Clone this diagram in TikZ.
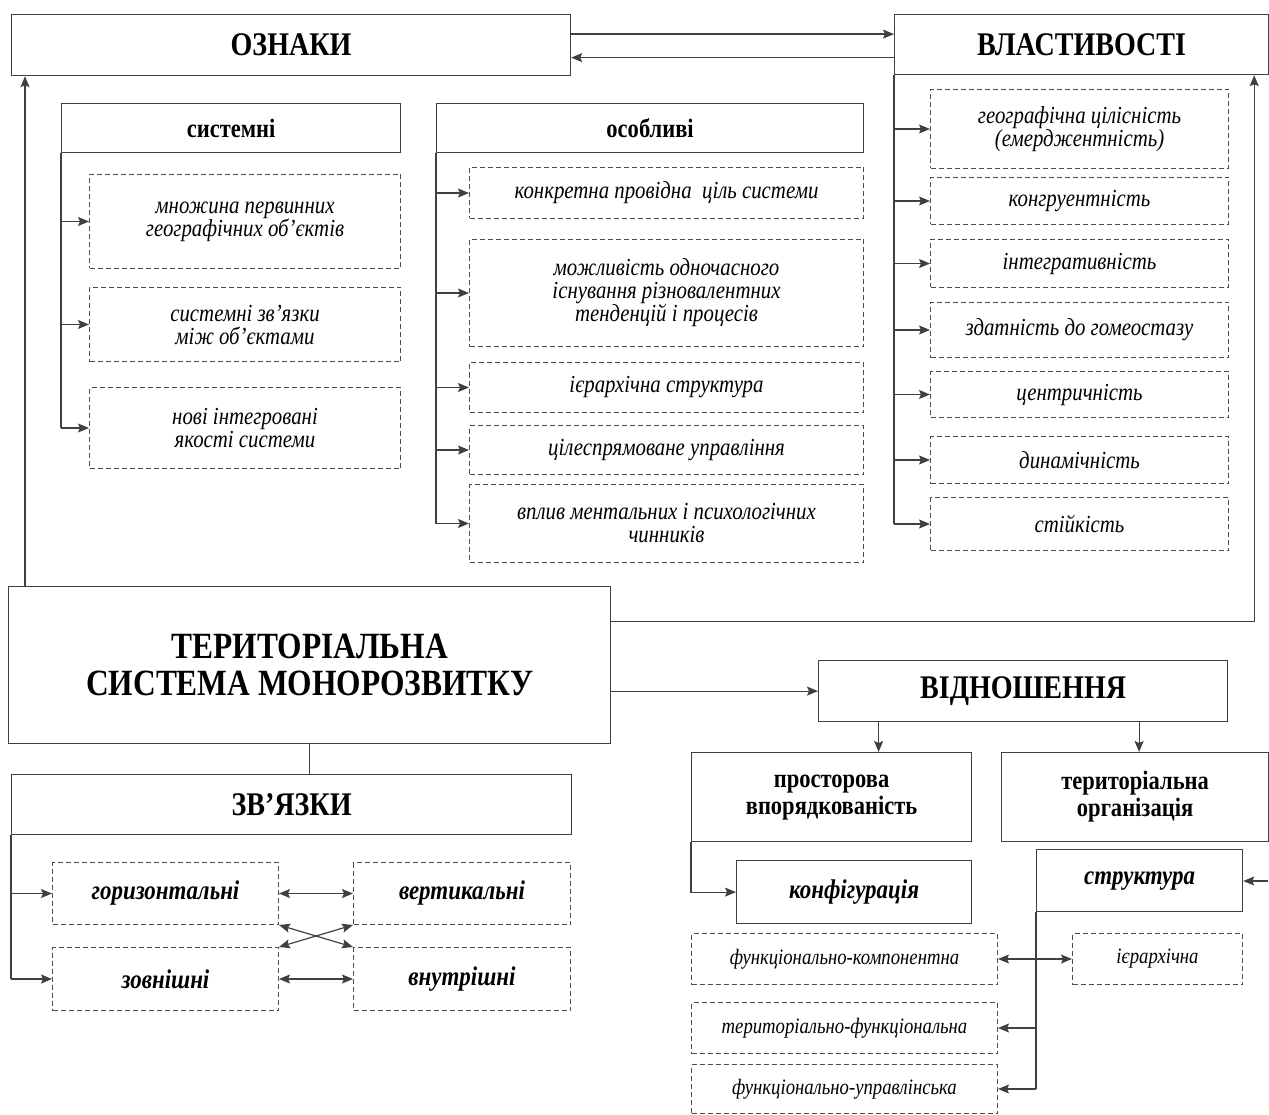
\documentclass[tikz,border=0pt]{standalone}
\usepackage{fontspec}
\setmainfont{Liberation Serif}[FakeStretch=0.85]
\usetikzlibrary{arrows.meta,positioning}

\begin{document}
\begin{tikzpicture}[
            x=1pt, y=-1pt,
            every node/.style={align=center, inner sep=0pt, text=black},
            sz/.style 2 args={minimum width=#1pt, minimum height=#2pt},
            box/.style={draw=black!75, line width=1.2pt, anchor=north west},
            dbox/.style={draw=black!70, line width=1pt, dash pattern=on 5pt off 3pt, anchor=north west, font=\fontsize{24.5}{23}\selectfont\itshape},
            sbox/.style={dbox, font=\fontsize{22}{22}\selectfont\itshape},
            bbox/.style={dbox, font=\fontsize{27}{27}\selectfont\bfseries\itshape},
            title/.style={box, font=\fontsize{33}{36}\selectfont\bfseries},
            head/.style={box, font=\fontsize{26.5}{27}\selectfont\bfseries},
            tip/.style={Stealth[length=11pt,width=9pt,inset=2pt]},
            to/.style={-{Stealth[length=11pt,width=9pt,inset=2pt]},line width=1.2pt,draw=black!75},
            both/.style={{Stealth[length=11pt,width=9pt,inset=2pt]}-{Stealth[length=11pt,width=9pt,inset=2pt]},line width=1.2pt,draw=black!75},
            line/.style={line width=1.2pt,draw=black!75}
  ]
  \useasboundingbox (0,0) rectangle (1269,1115);

  % top row
  \node[title, sz={559}{61}] (ozn) at (11,14) {ОЗНАКИ};
  \node[title, sz={374}{60}] (vlast) at (894,14) {ВЛАСТИВОСТІ};

  % ознаки
  \node[head, sz={339}{49}] (sys) at (61,103) {системні};
  \node[head, sz={427}{49}] (osob) at (436,103) {особливі};

  \node[dbox, sz={311}{94}] (s1) at (89,174) {множина первинних\\географічних об'єктів};
  \node[dbox, sz={311}{74}] (s2) at (89,287) {системні зв'язки\\між об'єктами};
  \node[dbox, sz={311}{81}] (s3) at (89,387) {нові інтегровані\\якості системи};

  \node[dbox, sz={394}{51}] (o1) at (469,167) {конкретна провідна\ \ ціль системи};
  \node[dbox, sz={394}{107}] (o2) at (469,239) {можливість одночасного\\існування різновалентних\\тенденцій і процесів};
  \node[dbox, sz={394}{50}] (o3) at (469,362) {ієрархічна структура};
  \node[dbox, sz={394}{49}] (o4) at (469,425) {цілеспрямоване управління};
  \node[dbox, sz={394}{78}] (o5) at (469,484) {вплив ментальних і психологічних\\чинників};

  % властивості
  \node[dbox, sz={298}{79}] (v1) at (930,89) {географічна цілісність\\(емерджентність)};
  \node[dbox, sz={298}{47}] (v2) at (930,177) {конгруентність};
  \node[dbox, sz={298}{48}] (v3) at (930,239) {інтегративність};
  \node[dbox, sz={298}{55}] (v4) at (930,302) {здатність до гомеостазу};
  \node[dbox, sz={298}{46}] (v5) at (930,371) {центричність};
  \node[dbox, sz={298}{47}] (v6) at (930,436) {динамічність};
  \node[dbox, sz={298}{53}] (v7) at (930,497) {стійкість};

  % centre
  \node[box, sz={602}{157}, font=\fontsize{37}{37}\selectfont\bfseries] (ter) at (8,586) {ТЕРИТОРІАЛЬНА\\СИСТЕМА МОНОРОЗВИТКУ};

  % зв'язки
  \node[title, sz={560}{60}] (zv) at (11,774) {ЗВ’ЯЗКИ};
  \node[bbox, sz={226}{62}] (z1) at (52,862) {горизонтальні};
  \node[bbox, sz={217}{62}] (z2) at (353,862) {вертикальні};
  \node[bbox, sz={226}{63}] (z3) at (52,947) {зовнішні};
  \node[bbox, sz={217}{63}] (z4) at (353,947) {внутрішні};

  % відношення
  \node[title, sz={409}{61}] (vid) at (818,660) {ВІДНОШЕННЯ};
  \node[head, sz={280}{89}] (pro) at (691,752) {просторова\\впорядкованість};
  \node[head, sz={267}{89}] (tor) at (1001,752) {територіальна\\організація};
  \node[box, sz={235}{63}, font=\fontsize{27}{27}\selectfont\bfseries\itshape] (konf) at (736,860) {конфігурація};
  \node[box, sz={206}{62}, font=\fontsize{27}{27}\selectfont\bfseries\itshape] (str) at (1036,849) {\raisebox{5pt}{структура}};
  \node[sbox, sz={306}{51}] (f1) at (691,933) {функціонально-компонентна};
  \node[sbox, sz={170}{51}] (h1) at (1072,933) {ієрархічна};
  \node[sbox, sz={306}{51}] (f2) at (691,1002) {територіально-функціональна};
  \node[sbox, sz={306}{49}] (f3) at (691,1064) {функціонально-управлінська};
  \coordinate (rim) at (1268,881);

  % connectors
  \draw[to] ([yshift=11pt]ozn.east) -- ([yshift=11pt]ozn.east -| vlast.west);
  \draw[to] ([yshift=-13pt]vlast.west) -- ([yshift=-13pt]vlast.west -| ozn.east);
  \draw[to] ([xshift=17pt]ter.north west) -- ([xshift=17pt]ter.north west |- ozn.south);

  \draw[line] (sys.south west) -- (sys.south west |- s3.west);
  \foreach \n in {s1,s2,s3} \draw[to] (sys.south west |- \n.west) -- (\n.west);

  \draw[line] (osob.south west) -- (osob.south west |- o5.west);
  \foreach \n in {o1,o2,o3,o4,o5} \draw[to] (osob.south west |- \n.west) -- (\n.west);

  \draw[line] (vlast.south west) -- (vlast.south west |- v7.west);
  \foreach \n in {v1,v2,v3,v4,v5,v6,v7} \draw[to] (vlast.south west |- \n.west) -- (\n.west);

  \draw[to] ([yshift=44pt]ter.east) -| ([xshift=-15pt]vlast.south east);
  \draw[to] (ter.east |- vid.west) -- (vid.west);
  \draw[line] (ter.south) -- (ter.south |- zv.north);

  \draw[line] (zv.south west) -- (zv.south west |- z3.west);
  \foreach \n in {z1,z3} \draw[to] (zv.south west |- \n.west) -- (\n.west);
  \draw[both] (z1.east) -- (z2.west);
  \draw[both] (z3.east) -- (z4.west);
  \draw[both] (z1.south east) -- (z4.north west);
  \draw[both] (z3.north east) -- (z2.south west);

  \draw[to] ([xshift=47pt]pro.north |- vid.south) -- ([xshift=47pt]pro.north);
  \draw[to] ([xshift=4pt]tor.north |- vid.south) -- ([xshift=4pt]tor.north);
  \draw[to] (pro.south west) |- (konf.west);

  \draw[to] (rim) -- (rim -| str.east);
  \draw[line] (str.south west) -- (str.south west |- f3.east);
  \draw[both] (f1.east) -- (h1.west);
  \foreach \n in {f2,f3} \draw[to] (str.south west |- \n.east) -- (\n.east);

\end{tikzpicture}
\end{document}
